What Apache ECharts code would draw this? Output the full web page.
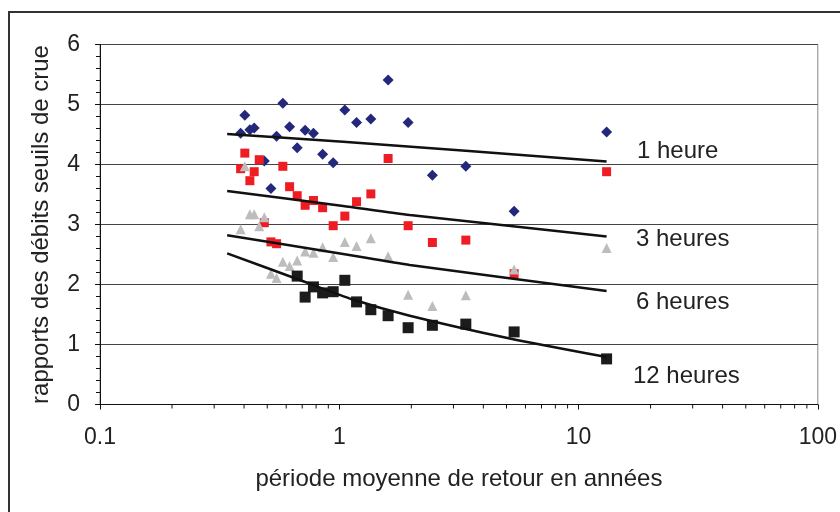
<!DOCTYPE html>
<html><head><meta charset="utf-8">
<script src="https://cdn.jsdelivr.net/npm/echarts@6/dist/echarts.min.js"></script>
<style>html,body{margin:0;padding:0;background:#fff}#c{width:840px;height:512px}</style>
</head><body><div id="c"></div>
<script>
// ---- data ----
const x1h = [0.387,0.403,0.423,0.441,0.486,0.518,0.547,0.581,0.620,0.667,0.720,0.780,0.852,0.943,1.055,1.181,1.355,1.60,1.94,2.45,3.38,5.38,13.1];
const y1h = [4.52,4.82,4.58,4.61,4.06,3.60,4.47,5.02,4.63,4.28,4.57,4.52,4.17,4.03,4.91,4.70,4.76,5.41,4.70,3.82,3.97,3.22,4.54];
const x3h = [0.387,0.403,0.423,0.441,0.463,0.486,0.518,0.547,0.581,0.620,0.667,0.720,0.780,0.852,0.943,1.055,1.181,1.355,1.60,1.94,2.45,3.38,5.38,13.1];
const y3h = [3.93,4.19,3.73,3.88,4.08,3.03,2.71,2.68,3.97,3.63,3.48,3.32,3.40,3.28,2.98,3.14,3.38,3.51,4.10,2.98,2.70,2.74,2.18,3.88];
const x6h = [0.387,0.403,0.423,0.441,0.463,0.486,0.518,0.547,0.581,0.620,0.667,0.720,0.780,0.852,0.943,1.055,1.181,1.355,1.60,1.94,2.45,3.38,5.38,13.1];
const y6h = [2.92,3.97,3.17,3.17,2.97,3.12,2.18,2.11,2.38,2.31,2.40,2.55,2.53,2.62,2.46,2.71,2.64,2.77,2.47,1.83,1.64,1.82,2.25,2.61];
const x12h = [0.667,0.720,0.780,0.852,0.943,1.055,1.181,1.355,1.60,1.94,2.45,3.38,5.38,13.1];
const y12h = [2.14,1.79,1.96,1.86,1.88,2.07,1.71,1.58,1.48,1.28,1.32,1.34,1.21,0.76];

const trend1hX = [0.340,1.038,13.1];
const trend1hY = [4.51,4.38,4.05];
const trend3hX = [0.340,1.038,1.97,13.1];
const trend3hY = [3.56,3.31,3.16,2.80];
const trend6hX = [0.340,1.038,1.97,13.1];
const trend6hY = [2.82,2.51,2.325,1.89];
const trend12hX = [0.340,0.684,1.14,1.97,5.16,13.1];
const trend12hY = [2.52,2.075,1.75,1.48,1.10,0.79];

const seriesNames = ['1 heure','3 heures','6 heures','12 heures'];
const xTickLabels = ['0.1','1','10','100'];
const yTickLabels = ['0','1','2','3','4','5','6'];
const xMinorTicks = [0.2,0.3,0.4,0.5,0.6,0.7,0.8,0.9,2,3,4,5,6,7,8,9,20,30,40,50,60,70,80,90];

const zip = (a,b) => a.map((v,i)=>[v,b[i]]);
const FONT = "'Liberation Sans', Arial, sans-serif";
const chart = echarts.init(document.getElementById('c'), null, {renderer:'canvas'});

function scatter(name, xs, ys, symbol, size, color, z){
  return {name, type:'scatter', data: zip(xs,ys), symbol, symbolSize:size,
    itemStyle:{color, opacity:1}, z, silent:true};
}
function trend(xs, ys){
  return {type:'line', data: zip(xs,ys), symbol:'none', smooth:0.2,
    lineStyle:{color:'#111', width:2.5}, z:10, silent:true};
}

chart.setOption({
  animation:false,
  backgroundColor:'#fff',
  grid:{left:100, top:44.5, width:718, height:360, show:true, borderColor:'#8a8a8a', borderWidth:1},
  xAxis:{type:'log', logBase:10, min:0.1, max:100,
    name:'période moyenne de retour en années', nameLocation:'middle', nameGap:63,
    nameTextStyle:{fontFamily:FONT, fontSize:24, color:'#222'},
    axisLine:{lineStyle:{color:'#111', width:1}},
    axisTick:{length:5, lineStyle:{color:'#111'}},
    axisLabel:{fontFamily:FONT, fontSize:23, color:'#222', margin:22,
      formatter:(v)=>{const i=Math.round(Math.log10(v))+1; return xTickLabels[i] ?? '';}},
    splitLine:{show:false}},
  yAxis:{type:'value', min:0, max:6, interval:1,
    name:'rapports des débits seuils de crue', nameLocation:'middle', nameGap:47,
    nameTextStyle:{fontFamily:FONT, fontSize:24, color:'#222'},
    axisLine:{show:true, lineStyle:{color:'#111', width:1}},
    axisTick:{show:true, length:5, lineStyle:{color:'#111'}},
    minorTick:{show:true, splitNumber:5, length:4, lineStyle:{color:'#111'}},
    axisLabel:{fontFamily:FONT, fontSize:23, color:'#222', margin:20,
      formatter:(v)=>yTickLabels[Math.round(v)] ?? ''},
    splitLine:{show:true, lineStyle:{color:'#444', width:1}}},
  graphic:[
    {type:'rect', shape:{x:9, y:12, width:860, height:540}, style:{fill:'none', stroke:'#333', lineWidth:2}, silent:true, z:100},
    {type:'text', left:637, top:139, style:{text:seriesNames[0], font:'24px '+FONT, fill:'#222'}},
    {type:'text', left:636, top:227, style:{text:seriesNames[1], font:'24px '+FONT, fill:'#222'}},
    {type:'text', left:636, top:290, style:{text:seriesNames[2], font:'24px '+FONT, fill:'#222'}},
    {type:'text', left:633, top:364, style:{text:seriesNames[3], font:'24px '+FONT, fill:'#222'}}
  ],
  series:[
    {type:'custom', silent:true, clip:false, z:5,
      data: xMinorTicks.map(v=>[v,0]),
      renderItem:(params, api)=>{
        const p = api.coord([api.value(0), 0]);
        return {type:'line', shape:{x1:p[0], y1:p[1], x2:p[0], y2:p[1]+4},
          style:{stroke:'#111', lineWidth:1}};
      }},
    scatter(seriesNames[0], x1h, y1h, 'diamond', 11, '#23287A', 3),
    scatter(seriesNames[1], x3h, y3h, 'rect', 9, '#EE1D23', 4),
    scatter(seriesNames[2], x6h, y6h, 'triangle', 10, '#BDBDBD', 5),
    scatter(seriesNames[3], x12h, y12h, 'rect', 11, '#1C1C1C', 6),
    trend(trend1hX, trend1hY),
    trend(trend3hX, trend3hY),
    trend(trend6hX, trend6hY),
    trend(trend12hX, trend12hY)
  ]
});
</script></body></html>
